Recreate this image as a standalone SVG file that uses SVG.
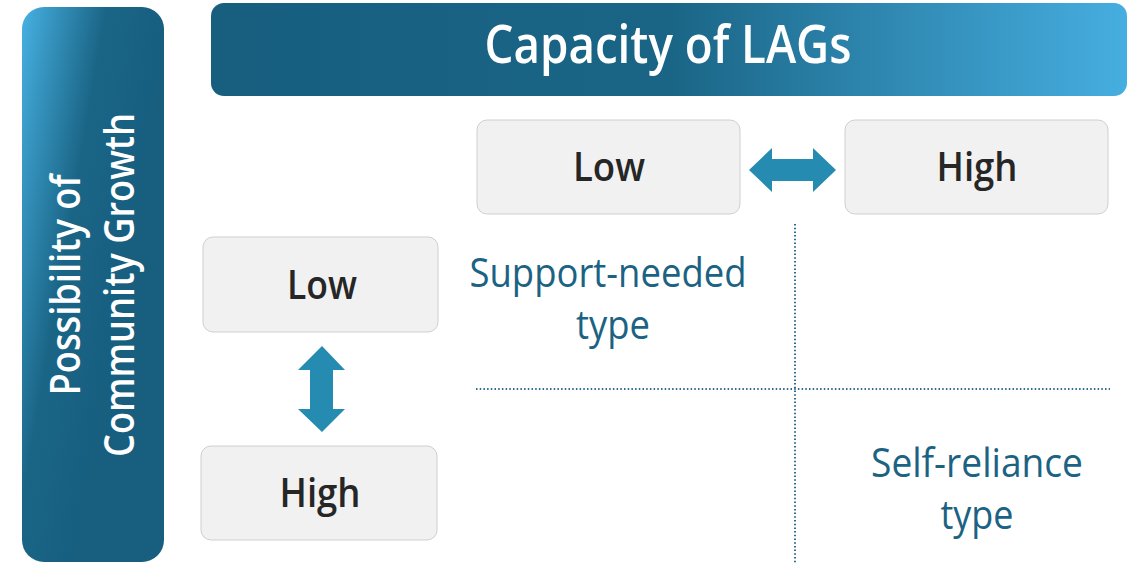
<svg xmlns="http://www.w3.org/2000/svg" width="1134" height="564" viewBox="0 0 1134 564">
  <defs>
    <linearGradient id="gradSide" x1="0" y1="0" x2="0.75" y2="0.5">
      <stop offset="0" stop-color="#47b1e2"/>
      <stop offset="0.55" stop-color="#1a6586"/>
      <stop offset="1" stop-color="#175e7f"/>
    </linearGradient>
    <linearGradient id="gradTop" x1="0" y1="0" x2="1" y2="0">
      <stop offset="0" stop-color="#175e7f"/>
      <stop offset="0.5" stop-color="#1a6586"/>
      <stop offset="1" stop-color="#46aee0"/>
    </linearGradient>
    <style>
      .hdr { font-family: "Open Sans", "Liberation Sans", sans-serif; font-weight: 600; fill: #ffffff; }
      .box rect { fill: #f1f1f1; stroke: #cfcfcf; stroke-width: 1; }
      .box text { font-family: "Open Sans", "Liberation Sans", sans-serif; font-weight: 600; font-size: 40px; fill: #262626; text-anchor: middle; }
      .quad { font-family: "Open Sans", "Liberation Sans", sans-serif; font-weight: 400; font-size: 41px; fill: #1b6283; text-anchor: middle; }
      .arrow { fill: #268bb0; }
      .grid { stroke: #2f6d8c; stroke-width: 2; stroke-dasharray: 1.5 2.2; fill: none; }
    </style>
  </defs>

  <!-- vertical axis header -->
  <g id="axis-growth">
    <rect x="22" y="7" width="142" height="555" rx="22" fill="url(#gradSide)"/>
    <text class="hdr" font-size="41" transform="translate(80,285) rotate(-90)" text-anchor="middle" textLength="221" lengthAdjust="spacingAndGlyphs">Possibility of</text>
    <text class="hdr" font-size="41" transform="translate(134,285) rotate(-90)" text-anchor="middle" textLength="344" lengthAdjust="spacingAndGlyphs">Community Growth</text>
  </g>

  <!-- horizontal axis header -->
  <g id="axis-capacity">
    <rect x="211" y="3" width="916" height="93" rx="13" fill="url(#gradTop)"/>
    <text class="hdr" font-size="52" x="668" y="63" text-anchor="middle" textLength="367" lengthAdjust="spacingAndGlyphs">Capacity of LAGs</text>
  </g>

  <!-- capacity levels -->
  <g id="cap-low" class="box">
    <rect x="477" y="120" width="263" height="94" rx="10"/>
    <text x="609" y="181" textLength="72" lengthAdjust="spacingAndGlyphs">Low</text>
  </g>
  <g id="cap-high" class="box">
    <rect x="845" y="120" width="263" height="94" rx="10"/>
    <text x="977" y="181" textLength="81" lengthAdjust="spacingAndGlyphs">High</text>
  </g>

  <!-- growth levels -->
  <g id="growth-low" class="box">
    <rect x="203" y="237" width="235" height="95" rx="10"/>
    <text x="322" y="299" textLength="70" lengthAdjust="spacingAndGlyphs">Low</text>
  </g>
  <g id="growth-high" class="box">
    <rect x="201" y="446" width="236" height="94" rx="10"/>
    <text x="320" y="507" textLength="81" lengthAdjust="spacingAndGlyphs">High</text>
  </g>

  <!-- connectors: double arrows and quadrant dividers -->
  <g id="connectors">
    <polygon class="arrow" points="749,170 772,148 772,159 813,159 813,148 836,170 813,192 813,181 772,181 772,192"/>
    <polygon class="arrow" points="322,346 345,370 333,370 333,409 345,409 322,432 298,409 310,409 310,370 298,370"/>
    <line class="grid" x1="795" y1="224" x2="795" y2="564"/>
    <line class="grid" x1="476" y1="389" x2="1110" y2="389"/>
  </g>

  <!-- quadrant labels -->
  <g id="quad-support">
    <text class="quad" x="608" y="287" textLength="277" lengthAdjust="spacingAndGlyphs">Support-needed</text>
    <text class="quad" x="613" y="339" textLength="74" lengthAdjust="spacingAndGlyphs">type</text>
  </g>
  <g id="quad-self">
    <text class="quad" x="977" y="477" textLength="212" lengthAdjust="spacingAndGlyphs">Self-reliance</text>
    <text class="quad" x="977" y="529" textLength="73" lengthAdjust="spacingAndGlyphs">type</text>
  </g>
</svg>
